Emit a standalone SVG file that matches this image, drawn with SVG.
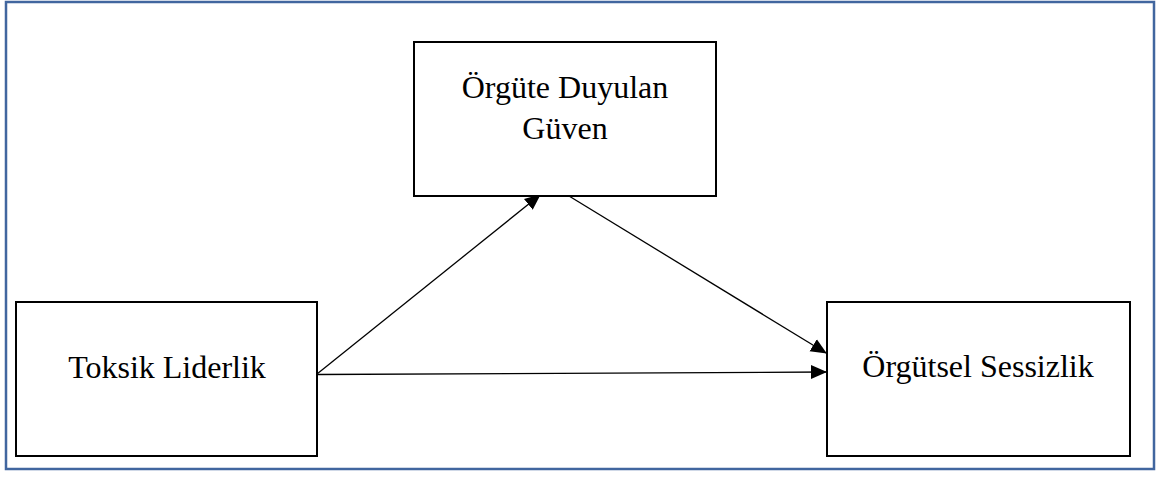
<svg xmlns="http://www.w3.org/2000/svg" width="1158" height="479" viewBox="0 0 1158 479">
<style>
.box{fill:#fff;stroke:#000;stroke-width:2}
.lbl{font-family:"Liberation Serif","Times New Roman",serif;font-size:32px;fill:#000;text-anchor:middle}
.conn{stroke:#000;stroke-width:1.3;fill:none;marker-end:url(#ah)}
</style>
<defs>
<marker id="ah" markerUnits="userSpaceOnUse" markerWidth="16" markerHeight="16" viewBox="0 0 16 16" refX="15" refY="8" orient="auto">
<path d="M0,1 L16,8 L0,15 Z" fill="#000"/>
</marker>
</defs>
<rect x="0" y="0" width="1158" height="479" fill="#fff"/>
<rect x="6" y="2" width="1148" height="467" fill="none" stroke="#41669F" stroke-width="2.5"/>
<g id="connectors">
<line class="conn" x1="317" y1="374" x2="540" y2="195"/>
<line class="conn" x1="569" y1="196" x2="826" y2="353"/>
<line class="conn" x1="317" y1="374.5" x2="826" y2="372"/>
</g>
<g id="node-guven">
<rect class="box" x="414" y="42" width="302" height="154"/>
<text class="lbl" x="565" y="98">Örgüte Duyulan</text>
<text class="lbl" x="565" y="139">Güven</text>
</g>
<g id="node-toksik">
<rect class="box" x="16" y="302" width="301" height="154"/>
<text class="lbl" x="167" y="378">Toksik Liderlik</text>
</g>
<g id="node-sessizlik">
<rect class="box" x="827" y="302" width="303" height="154"/>
<text class="lbl" x="978" y="377">Örgütsel Sessizlik</text>
</g>
</svg>
